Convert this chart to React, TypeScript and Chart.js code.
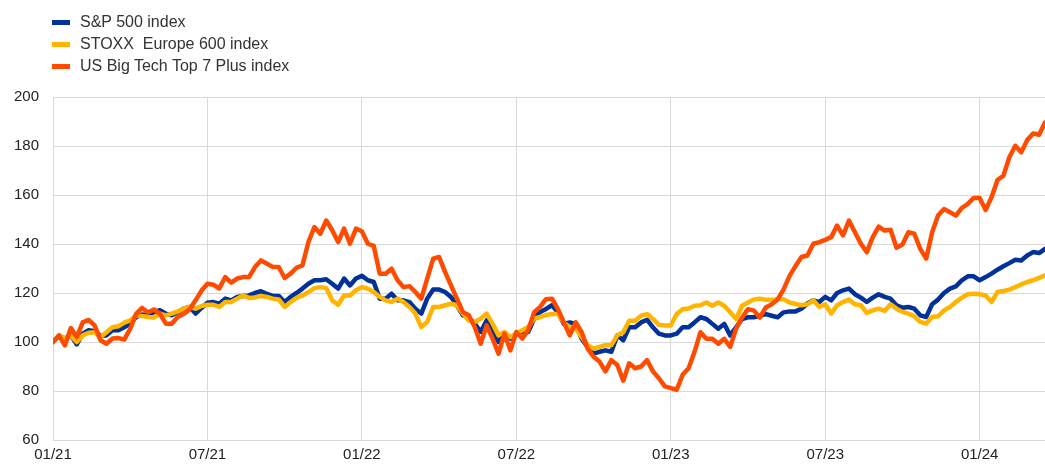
import React, { useEffect, useRef } from "react";
import { Chart, registerables } from "chart.js";

Chart.register(...registerables);

// Tick labels shown every 26 weeks (half-year)
const tickLabels = ["01/21", "07/21", "01/22", "07/22", "01/23", "07/23", "01/24"];

const seriesNames = ["S&P 500 index", "STOXX  Europe 600 index", "US Big Tech Top 7 Plus index"];
const seriesColors = ["#003299", "#FFB400", "#FF4B00"];

// Weekly index values, rebased to 100 at start of 2021
const sp500 = [
  100, 102.5, 101.4, 102.7, 99, 103.4, 104.8, 104.4, 102.5, 102.7,
  104.8, 104.8, 106, 107.5, 110.2, 111.2, 110.9, 112.2, 113, 111.6,
  110.9, 112.2, 113.6, 114.3, 111.6, 113.9, 116, 116.3, 115.6, 117.7,
  117, 118.4, 118.8, 119, 120, 120.7, 119.7, 118.8, 118.8, 116.3,
  118.4, 120, 121.8, 123.8, 125.2, 125.2, 125.6, 123.8, 121.8, 125.9,
  123.1, 125.9, 127, 125.2, 124.5, 117.7, 117.7, 119.7, 117, 117,
  116.3, 113.6, 111.6, 117.7, 121.4, 121.4, 120.4, 118.4, 115, 110.9,
  109.8, 107.5, 104.1, 108.8, 104.8, 100, 103.4, 101.4, 103.4, 104.1,
  104.1, 109.5, 112.2, 113.5, 115, 112.1, 107.4, 108, 107.4, 101.3,
  98, 95.3, 96, 96.6, 96, 102.7, 100.7, 106, 106, 108,
  109.1, 106, 103.4, 102.7, 102.7, 103.4, 106, 106, 108, 110.1,
  109.4, 107.4, 105.4, 107.4, 102.7, 106, 109.4, 110.1, 110.1, 110.7,
  111.4, 110.7, 110.1, 112.1, 112.5, 112.5, 113.6, 115.7, 117, 116.3,
  118.4, 117, 120, 121.1, 121.8, 119.5, 118.1, 116.3, 118.1, 119.5,
  118.4, 117.7, 115, 114, 114.3, 113.6, 110.9, 110.2, 115.4, 117.3,
  120, 121.8, 122.7, 125.2, 126.8, 126.8, 125.2, 126.5, 127.9, 129.5,
  130.9, 132.2, 133.6, 133.3, 135.3, 136.7, 136.3, 138,
];

const stoxx600 = [
  100, 102.7, 101.6, 102.7, 100, 102.7, 103.8, 104, 102, 104,
  106, 106.4, 107.9, 108.8, 110.9, 110.6, 110.2, 110, 111.6, 110.9,
  111.6, 112.5, 113.6, 114.3, 113.6, 114.7, 115.2, 115.2, 114.3, 116.3,
  116.3, 117.7, 119, 118, 118.2, 118.8, 118.4, 117.7, 117.4, 114.3,
  116.3, 118, 119, 120.4, 122, 122.4, 122, 117, 115.2, 119,
  119, 121.1, 122.4, 121.8, 120.4, 118.4, 117, 116.3, 117.7, 116.3,
  114.3, 111.6, 106.1, 108.2, 114.3, 114.3, 115, 115.6, 115, 111.6,
  108.8, 108.2, 109.5, 111.6, 107.5, 102.7, 104.1, 102, 103.4, 104.8,
  106.1, 109.5, 110.2, 111, 111.4, 111.4, 108, 106, 105.4, 102,
  98.7, 97.3, 98, 98.7, 98.7, 102.7, 104, 108.7, 108.7, 110.7,
  111.4, 109.4, 107, 106.7, 106.7, 111.4, 113.4, 113.7, 114.8, 115,
  116.1, 114.8, 116.1, 114.8, 112.1, 109.4, 114.8, 116.1, 117.4, 117.7,
  117.2, 117.2, 117.4, 117.4, 116.1, 115.5, 115, 115.4, 117, 114.3,
  115.4, 111.6, 115, 116.3, 117.3, 115.4, 115, 111.9, 112.9, 113.6,
  112.7, 115.4, 113.6, 112.3, 111.6, 110.5, 108.2, 107.5, 110.2, 110.5,
  112.9, 114.3, 116.3, 118.1, 119.5, 119.7, 119.5, 119, 116.3, 120.4,
  120.8, 121.4, 122.4, 123.5, 124.5, 125.2, 126.2, 127.2,
];

const bigTech = [
  100, 102.7, 98.6, 105.7, 102, 108, 109, 106.8, 100.7, 99.3,
  101.4, 101.6, 101, 105.4, 111.5, 113.9, 112, 113.3, 111.5, 107.5,
  107.5, 110.2, 111.5, 113.3, 117, 121, 123.8, 123.4, 121.8, 126.5,
  124.2, 125.9, 126.5, 126.5, 130.6, 133.3, 132, 130.6, 130.6, 126.1,
  127.9, 130.3, 131.3, 140.8, 146.9, 144.2, 149.6, 145.6, 140.8, 146.3,
  140.1, 146.3, 145.2, 140.1, 139.2, 127.9, 127.9, 129.9, 125.2, 122.4,
  122.8, 120.4, 117.7, 125.9, 134, 134.7, 128.6, 123.1, 117.7, 112.2,
  110.9, 106.1, 99.3, 106.8, 101.4, 95.2, 103.4, 96.6, 104.1, 101.4,
  104.8, 112.2, 114.3, 117.5, 117.7, 113.4, 108, 102.7, 108, 104,
  97.3, 94, 92, 88, 92.6, 90.6, 84.2, 91.3, 89.3, 90,
  92.6, 88, 85.2, 81.9, 81.2, 80.5, 86.6, 89.3, 96, 104,
  101.3, 101.3, 99.3, 101.3, 98, 105.4, 110, 113.4, 112.8, 110,
  114.1, 115.4, 117.4, 121.5, 127, 131, 134.7, 135.3, 140.1, 140.8,
  141.7, 142.8, 147.5, 143.5, 149.6, 144.8, 140.1, 136.7, 142.8, 147.1,
  145.5, 145.8, 138.5, 139.8, 144.8, 144.2, 138, 134, 144.8, 151.6,
  154.3, 153, 151.6, 154.7, 156.4, 158.8, 158.8, 153.9, 159.1, 166.1,
  167.9, 175.4, 180.1, 177.4, 182.4, 185.1, 184.6, 189.6,
];

const yMin = 60;
const yMax = 200;
const yStep = 20;
const weeksPerTick = 26;

const FONT = '"Liberation Sans", Arial, Helvetica, sans-serif';

export default function App() {
  const canvasRef = useRef<HTMLCanvasElement | null>(null);

  useEffect(() => {
    const weeks = sp500.map((_, i) => i);
    const seriesData = [sp500, stoxx600, bigTech];
    const chart = new Chart(canvasRef.current as HTMLCanvasElement, {
      type: "line",
      data: {
        labels: weeks,
        datasets: seriesData.map((d, i) => ({
          label: seriesNames[i],
          data: d,
          borderColor: seriesColors[i],
          backgroundColor: seriesColors[i],
          borderWidth: 4.5,
          pointRadius: 0,
          tension: 0,
          fill: false,
          borderJoinStyle: "round" as const,
          borderCapStyle: "round" as const,
          order: 2 - i,
        })),
      },
      options: {
        animation: false,
        responsive: false,
        events: [],
        layout: { padding: { top: 97, right: 0, bottom: 0, left: 0 } },
        plugins: {
          legend: { display: false },
          tooltip: { enabled: false },
        },
        scales: {
          x: {
            type: "linear",
            min: 0,
            max: weeks.length - 1,
            afterBuildTicks: (scale: any) => {
              scale.ticks = tickLabels.map((_, i) => ({ value: i * weeksPerTick }));
            },
            afterFit: (scale: any) => {
              scale.height = 28;
            },
            ticks: {
              autoSkip: false,
              maxRotation: 0,
              padding: 6,
              color: "#222222",
              font: { family: FONT, size: 15 },
              callback: (v: any) => tickLabels[Math.round(Number(v) / weeksPerTick)] ?? "",
            },
            grid: { color: "#d9d9d9", lineWidth: 1, drawTicks: false },
            border: { display: false },
          },
          y: {
            min: yMin,
            max: yMax,
            afterFit: (scale: any) => {
              scale.width = 53;
            },
            ticks: {
              stepSize: yStep,
              padding: 14,
              color: "#222222",
              font: { family: FONT, size: 15 },
            },
            grid: { color: "#d9d9d9", lineWidth: 1, drawTicks: false },
            border: { display: false },
          },
        },
      },
    });
    return () => chart.destroy();
  }, []);

  return (
    <div style={{ position: "absolute", left: 0, top: 0, width: 1045, height: 468, background: "#fff" }}>
      <canvas ref={canvasRef} width={1045} height={468} style={{ position: "absolute", left: 0, top: 0 }} />
      <div style={{ position: "absolute", left: 0, top: 0 }}>
        {seriesNames.map((name, i) => (
          <div
            key={name}
            style={{
              position: "absolute",
              left: 52,
              top: 12 + i * 22,
              height: 20,
              display: "flex",
              alignItems: "center",
              whiteSpace: "pre",
              fontFamily: FONT,
              fontSize: 16,
              color: "#333333",
            }}
          >
            <span style={{ display: "inline-block", width: 18, height: 5, background: seriesColors[i], marginRight: 10 }} />
            <span>{name}</span>
          </div>
        ))}
      </div>
    </div>
  );
}
